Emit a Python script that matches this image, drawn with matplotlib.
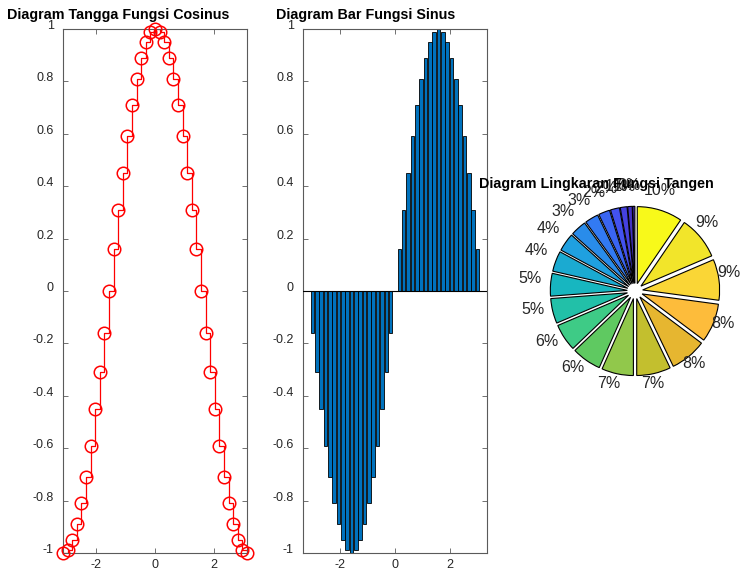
import matplotlib
matplotlib.use('Agg')
import matplotlib.pyplot as plt
from matplotlib.colors import LinearSegmentedColormap
from matplotlib.transforms import ScaledTranslation

plt.rcParams['font.family'] = ['Liberation Sans', 'DejaVu Sans']
plt.rcParams['axes.unicode_minus'] = False

# ---------------- data ----------------
x_vals = [-3.14, -2.98, -2.83, -2.67, -2.51, -2.36, -2.20, -2.04, -1.88, -1.73,
          -1.57, -1.41, -1.26, -1.10, -0.94, -0.79, -0.63, -0.47, -0.31, -0.16,
          0.00, 0.16, 0.31, 0.47, 0.63, 0.79, 0.94, 1.10, 1.26, 1.41,
          1.57, 1.73, 1.88, 2.04, 2.20, 2.36, 2.51, 2.67, 2.83, 2.98, 3.14]
cos_vals = [-1.00, -0.99, -0.95, -0.89, -0.81, -0.71, -0.59, -0.45, -0.31, -0.16,
            0.00, 0.16, 0.31, 0.45, 0.59, 0.71, 0.81, 0.89, 0.95, 0.99,
            1.00, 0.99, 0.95, 0.89, 0.81, 0.71, 0.59, 0.45, 0.31, 0.16,
            0.00, -0.16, -0.31, -0.45, -0.59, -0.71, -0.81, -0.89, -0.95, -0.99, -1.00]
sin_vals = [0.00, -0.16, -0.31, -0.45, -0.59, -0.71, -0.81, -0.89, -0.95, -0.99,
            -1.00, -0.99, -0.95, -0.89, -0.81, -0.71, -0.59, -0.45, -0.31, -0.16,
            0.00, 0.16, 0.31, 0.45, 0.59, 0.71, 0.81, 0.89, 0.95, 0.99,
            1.00, 0.99, 0.95, 0.89, 0.81, 0.71, 0.59, 0.45, 0.31, 0.16, 0.00]
pie_vals = [1, 2, 3, 4, 5, 6, 7, 8, 9, 10, 11, 12, 13, 14, 15, 16, 17, 18, 19, 20]

x_ticks = [-2, 0, 2]
y_ticks = [-1, -0.8, -0.6, -0.4, -0.2, 0, 0.2, 0.4, 0.6, 0.8, 1]
y_tick_labels = ['-1', '-0.8', '-0.6', '-0.4', '-0.2', '0', '0.2', '0.4', '0.6', '0.8', '1']
titles = ['Diagram Tangga Fungsi Cosinus', 'Diagram Bar Fungsi Sinus',
          'Diagram Lingkaran Fungsi Tangen']

# ---------------- figure ----------------
W, H = 742, 570
fig = plt.figure(figsize=(W / 100, H / 100), dpi=100)


def px_axes(left, top, right, bottom):
    return fig.add_axes([left / W, 1 - bottom / H, (right - left) / W, (bottom - top) / H])


ax1 = px_axes(63, 29, 247, 553)
ax2 = px_axes(303, 29, 487, 553)
ax3 = px_axes(543, 199, 727, 383)

axis_col = '#5a5a5a'
text_col = '#262626'


def style(ax, xlim):
    ax.set_xlim(*xlim)
    ax.set_ylim(-1, 1)
    ax.set_xticks(x_ticks)
    ax.set_xticklabels([str(t) for t in x_ticks])
    ax.set_yticks(y_ticks)
    ax.set_yticklabels(y_tick_labels)
    ax.tick_params(direction='in', length=3.8, width=0.6, color=axis_col,
                   top=True, right=True, labelsize=9, labelcolor=text_col)
    ax.tick_params(axis='x', pad=4)
    ax.tick_params(axis='y', pad=6.5)
    for lbl in ax.get_yticklabels():
        lbl.set_va('baseline')
    for sp in ax.spines.values():
        sp.set_color(axis_col)
        sp.set_linewidth(0.8)


# Stairs (cosine)
ax1.step(x_vals, cos_vals, where='post', color='#ff0000', lw=0.9, zorder=2)
ax1.plot(x_vals, cos_vals, 'o', mfc='none', mec='#ff0000', ms=9, mew=1.1,
         clip_on=False, zorder=3)
style(ax1, (-3.1416, 3.1416))
ax1.set_title(titles[0], fontsize=10.3, fontweight='bold', x=0.299, pad=7.5)

# Bars (sine)
bar_w = 0.8 * (x_vals[1] - x_vals[0])
ax2.bar(x_vals, sin_vals, width=bar_w, color='#0072BD', edgecolor='black',
        linewidth=0.6, zorder=2)
ax2.axhline(0, color='black', lw=0.8, zorder=3)
style(ax2, (-3.33, 3.33))
ax2.set_title(titles[1], fontsize=10.3, fontweight='bold', x=0.342, pad=7.5)

# Pie (tangent)
parula_like = LinearSegmentedColormap.from_list('parula_like', [
    (0.00, '#3E26A8'), (0.13, '#4748EE'), (0.26, '#3279F3'), (0.37, '#1FA0E0'),
    (0.50, '#15BBB8'), (0.58, '#3ECB86'), (0.63, '#5EC962'), (0.69, '#94C84A'),
    (0.74, '#C6BF2C'), (0.79, '#E5B62F'), (0.84, '#FDBB3B'), (0.90, '#FAD736'),
    (0.95, '#F2E52A'), (1.00, '#F8F91A')])
n = len(pie_vals)
colors = [parula_like(i / (n - 1)) for i in range(n)]
total = sum(pie_vals)
labels = [f'{round(v / total * 100)}%' for v in pie_vals]
wedges, texts = ax3.pie(pie_vals, explode=[0.1] * n, labels=labels, colors=colors,
                        startangle=90, counterclock=True, labeldistance=1.2,
                        wedgeprops=dict(edgecolor='black', linewidth=0.8),
                        textprops=dict(fontsize=11.5, color=text_col))
shift = ScaledTranslation(-5 / 100, 5 / 100, fig.dpi_scale_trans)
for t in texts:
    t.set_ha('center')
    t.set_va('center')
    t.set_transform(t.get_transform() + shift)
ax3.set_xlim(-1.195, 1.195)
ax3.set_ylim(-1.195, 1.195)
ax3.set_aspect('equal')
ax3.axis('off')
ax3.set_title(titles[2], fontsize=10.3, fontweight='bold', x=0.291, pad=8)

fig.savefig('out.png', dpi=100)
